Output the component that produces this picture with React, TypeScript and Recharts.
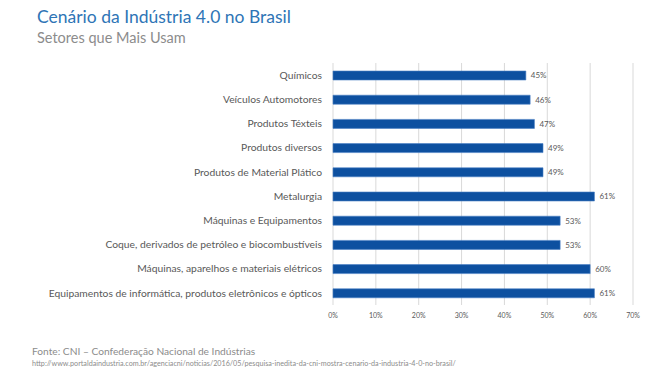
import React from 'react';
import { BarChart, Bar, XAxis, YAxis, CartesianGrid, LabelList } from 'recharts';

// Setores e percentual de uso
const setores = [
  'Químicos',
  'Veículos Automotores',
  'Produtos Téxteis',
  'Produtos diversos',
  'Produtos de Material Plático',
  'Metalurgia',
  'Máquinas e Equipamentos',
  'Coque, derivados de petróleo e biocombustíveis',
  'Máquinas, aparelhos e materiais elétricos',
  'Equipamentos de informática, produtos eletrônicos e ópticos',
];
const percentuais = [45, 46, 47, 49, 49, 61, 53, 53, 60, 61];
const xTicks = [0, 10, 20, 30, 40, 50, 60, 70];

const data = setores.map((setor, i) => ({ setor, valor: percentuais[i] }));

const FONT = 'Lato, "Open Sans", sans-serif';
const GRAY = '#595959';

// rótulo do eixo numa linha só (sem quebra)
const SetorTick = (props: any) => {
  const { x, y, payload } = props;
  return (
    <text x={x - 3} y={y} dy="0.35em" textAnchor="end" fontSize={10.3} fill={GRAY} fontFamily={FONT}>
      {payload.value}
    </text>
  );
};

export default function App() {
  return (
    <div style={{ position: 'absolute', left: 0, top: 0, width: 666, height: 375, background: '#fff', fontFamily: FONT }}>
      <div style={{ position: 'absolute', left: 37, top: 6, fontSize: 17.5, color: '#2E75B6' }}>
        Cenário da Indústria 4.0 no Brasil
      </div>
      <div style={{ position: 'absolute', left: 37, top: 29, fontSize: 14.5, color: '#8C8C8C' }}>
        Setores que Mais Usam
      </div>
      <BarChart
        width={666}
        height={375}
        data={data}
        layout="vertical"
        barSize={9}
        margin={{ top: 63, right: 33, bottom: 58, left: 0 }}
      >
        <CartesianGrid horizontal={false} stroke="#D9D9D9" />
        <XAxis
          type="number"
          domain={[0, 70]}
          ticks={xTicks}
          tickFormatter={(v) => `${v}%`}
          axisLine={false}
          tickLine={false}
          tick={{ fontSize: 7, fill: GRAY }}
          height={12}
          tickMargin={2}
        />
        <YAxis
          type="category"
          dataKey="setor"
          width={333}
          axisLine={false}
          tickLine={false}
          tick={<SetorTick />}
          interval={0}
        />
        <Bar dataKey="valor" fill="#0D50A0" stroke="#4A7FC4" strokeWidth={0.6} isAnimationActive={false}>
          <LabelList
            dataKey="valor"
            position="right"
            offset={5}
            formatter={(v: number) => `${v}%`}
            style={{ fontSize: 8, fill: GRAY }}
          />
        </Bar>
      </BarChart>
      <div style={{ position: 'absolute', left: 32, top: 345, fontSize: 10.2, color: '#8C8C8C' }}>
        Fonte: CNI – Confederação Nacional de Indústrias
      </div>
      <div style={{ position: 'absolute', left: 32, top: 359, fontSize: 7.2, color: '#8C8C8C' }}>
        http://www.portaldaindustria.com.br/agenciacni/noticias/2016/05/pesquisa-inedita-da-cni-mostra-cenario-da-industria-4-0-no-brasil/
      </div>
    </div>
  );
}
